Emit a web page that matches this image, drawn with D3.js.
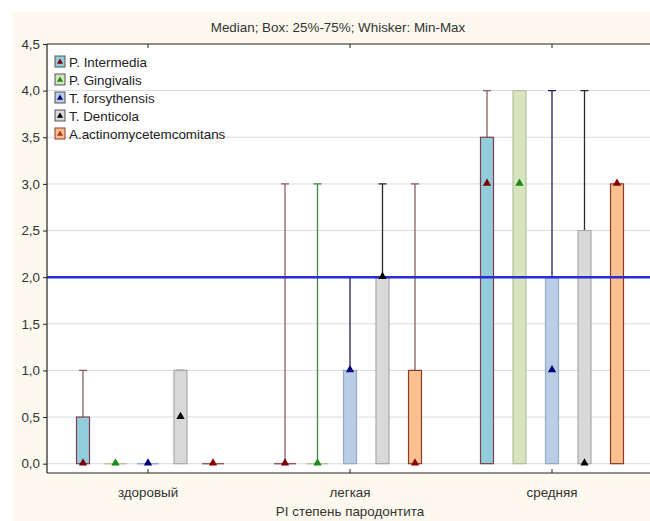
<!DOCTYPE html>
<html>
<head>
<meta charset="utf-8">
<script src="https://cdn.jsdelivr.net/npm/d3@7"></script>
<style>
  body { margin: 0; background: #fff; }
  svg { display: block; font-family: "Liberation Sans", Arial, sans-serif; }
</style>
</head>
<body>
<script>
// data
var groups = ["здоровый", "легкая", "средняя"];
var series = ["P. Intermedia", "P. Gingivalis", "T. forsythensis", "T. Denticola", "A.actinomycetemcomitans"];
// [group][series]
var medians = [[0, 0, 0, 0.5, 0], [0, 0, 1, 2, 0], [3, 3, 1, 0, 3]];
var q1s     = [[0, 0, 0, 0, 0],   [0, 0, 0, 0, 0], [0, 0, 0, 0, 0]];
var q3s     = [[0.5, 0, 0, 1, 0], [0, 0, 1, 2, 1], [3.5, 4, 2, 2.5, 3]];
var mins    = [[0, 0, 0, 0, 0],   [0, 0, 0, 0, 0], [0, 0, 0, 0, 0]];
var maxs    = [[1, 0, 0, 1, 0],   [3, 3, 2, 3, 3], [4, 4, 4, 4, 3]];
var yTicks = [0, 0.5, 1, 1.5, 2, 2.5, 3, 3.5, 4, 4.5];
var refLine = 2;

// styles per series
var boxFill    = ["#92cddc", "#d7e4bd", "#b9cde5", "#d9d9d9", "#fac090"];
var boxStroke  = ["#7f3f4f", "#b5c49a", "#95aac8", "#a9a9a9", "#8b3a2a"];
var whiskerCol = ["#8c5f5f", "#3d8a3d", "#23235e", "#2a2a2a", "#8c5f5f"];
var markerCol  = ["#800000", "#1a8a1a", "#00007f", "#000000", "#8b0000"];

var W = 650, H = 521;
var margin = {left: 47, top: 44, right: 653, bottom: 473};
var fontSize = "13.4px";

var svg = d3.select("body").append("svg")
    .attr("width", W)
    .attr("height", H);

// cream background
svg.append("rect").attr("x", 13).attr("y", 12).attr("width", W).attr("height", H)
    .attr("fill", "#fdf9ee");
svg.append("rect").attr("x", margin.left).attr("y", margin.top)
    .attr("width", margin.right - margin.left).attr("height", margin.bottom - margin.top)
    .attr("fill", "#ffffff");

var y = d3.scaleLinear().domain([-0.1, 4.5]).range([margin.bottom, margin.top]);
var x = d3.scaleBand().domain(groups).range([margin.left, margin.right]);
var xs = d3.scalePoint().domain(series).range([-65, 65]);
var boxW = 13;

// grid
svg.append("g").selectAll("line")
    .data(yTicks.filter(function(d) { return d < 4.5; }))
    .enter().append("line")
    .attr("x1", margin.left).attr("x2", margin.right)
    .attr("y1", function(d) { return y(d); })
    .attr("y2", function(d) { return y(d); })
    .attr("stroke", "#dcdcdc")
    .attr("stroke-width", 1);

// title
svg.append("text")
    .attr("x", 338).attr("y", 32)
    .attr("text-anchor", "middle")
    .attr("font-size", fontSize)
    .attr("fill", "#333")
    .text("Median; Box: 25%-75%; Whisker: Min-Max");

// flatten
var items = [];
groups.forEach(function(g, gi) {
  series.forEach(function(s, si) {
    items.push({g: g, s: s, si: si,
      med: medians[gi][si], q1: q1s[gi][si], q3: q3s[gi][si],
      min: mins[gi][si], max: maxs[gi][si]});
  });
});
function cx(d) { return x(d.g) + x.bandwidth() / 2 + xs(d.s); }

var plot = svg.append("g");

// whiskers
plot.selectAll(".whisker").data(items.filter(function(d) { return d.max > d.min; }))
  .enter().append("line")
    .attr("x1", cx).attr("x2", cx)
    .attr("y1", function(d) { return y(d.min); })
    .attr("y2", function(d) { return y(d.max); })
    .attr("stroke", function(d) { return whiskerCol[d.si]; })
    .attr("stroke-width", 1.3);
plot.selectAll(".cap").data(items.filter(function(d) { return d.max > d.min; }))
  .enter().append("line")
    .attr("x1", function(d) { return cx(d) - 4; })
    .attr("x2", function(d) { return cx(d) + 4; })
    .attr("y1", function(d) { return y(d.max); })
    .attr("y2", function(d) { return y(d.max); })
    .attr("stroke", function(d) { return whiskerCol[d.si]; })
    .attr("stroke-width", 1.3);

// boxes
plot.selectAll(".box").data(items.filter(function(d) { return d.q3 > d.q1; }))
  .enter().append("rect")
    .attr("x", function(d) { return cx(d) - boxW / 2; })
    .attr("width", boxW)
    .attr("y", function(d) { return y(d.q3); })
    .attr("height", function(d) { return y(d.q1) - y(d.q3); })
    .attr("fill", function(d) { return boxFill[d.si]; })
    .attr("stroke", function(d) { return boxStroke[d.si]; })
    .attr("stroke-width", 1.2);
// flat boxes
plot.selectAll(".flat").data(items.filter(function(d) { return d.q3 === d.q1; }))
  .enter().append("line")
    .attr("x1", function(d) { return cx(d) - 11; })
    .attr("x2", function(d) { return cx(d) + 11; })
    .attr("y1", function(d) { return y(d.q1); })
    .attr("y2", function(d) { return y(d.q1); })
    .attr("stroke", function(d) { return d.si === 1 || d.si === 2 ? boxStroke[d.si] : whiskerCol[d.si]; })
    .attr("stroke-width", 1.5);

// reference line
svg.append("line")
    .attr("x1", margin.left).attr("x2", margin.right)
    .attr("y1", y(refLine)).attr("y2", y(refLine))
    .attr("stroke", "#2b2bd6")
    .attr("stroke-width", 2.5);

// median markers
var tri = d3.symbol().type(d3.symbolTriangle).size(30);
svg.append("g").selectAll("path").data(items)
  .enter().append("path")
    .attr("d", tri)
    .attr("transform", function(d) { return "translate(" + cx(d) + "," + (y(d.med) - 0.5) + ")"; })
    .attr("fill", function(d) { return markerCol[d.si]; });

// axes frame
var frame = svg.append("g").attr("stroke", "#222").attr("stroke-width", 1.2);
frame.append("line").attr("x1", margin.left).attr("x2", margin.left)
    .attr("y1", margin.top).attr("y2", margin.bottom);
frame.append("line").attr("x1", margin.left).attr("x2", W)
    .attr("y1", margin.bottom).attr("y2", margin.bottom);
frame.append("line").attr("x1", margin.left).attr("x2", W)
    .attr("y1", margin.top).attr("y2", margin.top);

// y axis
var yAxis = d3.axisLeft(y).tickValues(yTicks).tickSize(4).tickPadding(3)
    .tickFormat(function(d) { return d3.format(".1f")(d).replace(".", ","); });
var ya = svg.append("g").attr("transform", "translate(" + margin.left + ",0)").call(yAxis);
ya.select(".domain").remove();
ya.selectAll("line").attr("stroke", "#222");
ya.selectAll("text").attr("font-size", fontSize).attr("fill", "#333")
    .attr("font-family", "Liberation Sans, Arial, sans-serif");

// x axis (ticks inside)
var xAxis = d3.axisBottom(x).tickSize(-4).tickPadding(14);
var xa = svg.append("g").attr("transform", "translate(0," + margin.bottom + ")").call(xAxis);
xa.select(".domain").remove();
xa.selectAll("line").attr("stroke", "#222");
xa.selectAll("text").attr("font-size", fontSize).attr("fill", "#333")
    .attr("font-family", "Liberation Sans, Arial, sans-serif");
var xTop = d3.axisTop(x).tickSize(-4).tickFormat("");
var xt = svg.append("g").attr("transform", "translate(0," + margin.top + ")").call(xTop);
xt.select(".domain").remove();
xt.selectAll("line").attr("stroke", "#222");

svg.append("text")
    .attr("x", 350).attr("y", 516)
    .attr("text-anchor", "middle")
    .attr("font-size", fontSize)
    .attr("fill", "#333")
    .text("PI степень пародонтита");

// legend
var leg = svg.append("g").attr("transform", "translate(55,56)");
var li = leg.selectAll("g").data(series).enter().append("g")
    .attr("transform", function(d, i) { return "translate(0," + (i * 18) + ")"; });
li.append("rect")
    .attr("x", 0).attr("y", 0).attr("width", 10).attr("height", 11)
    .attr("fill", function(d, i) { return boxFill[i]; })
    .attr("stroke", function(d, i) { return i === 4 ? boxStroke[i] : "#555"; })
    .attr("stroke-width", 1);
li.append("path")
    .attr("d", d3.symbol().type(d3.symbolTriangle).size(16))
    .attr("transform", "translate(5,6)")
    .attr("fill", function(d, i) { return i === 4 ? "#c0301a" : markerCol[i]; });
li.append("text")
    .attr("x", 14).attr("y", 10.5)
    .attr("font-size", fontSize)
    .attr("fill", "#222")
    .text(function(d) { return d; });
</script>
</body>
</html>
